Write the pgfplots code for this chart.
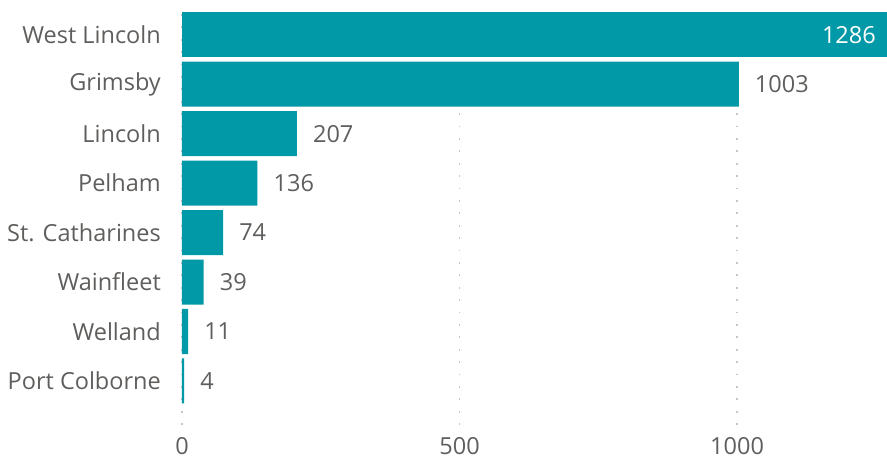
\documentclass[border=0pt]{standalone}
\usepackage{fontspec}
\setmainfont{Open Sans}
\usepackage{pgfplots}
\pgfplotsset{compat=1.18}
\definecolor{barc}{RGB}{1,153,168}
\definecolor{txt}{RGB}{96,94,92}
\definecolor{grd}{RGB}{200,198,196}
\begin{document}
\begin{tikzpicture}
\begin{axis}[
  name=ax,
  scale only axis,
  width=705pt, height=420pt,
  xbar, bar shift=0pt, bar width=0.91,
  xmin=0, xmax=1270,
  ymin=-0.89, ymax=7.6,
  xtick={0,500,1000},
  ytick={0,1,2,3,4,5,6,7},
  yticklabels={Port Colborne, Welland, Wainfleet, St. Catharines, Pelham, Lincoln, Grimsby, West Lincoln},
  axis line style={draw=none},
  tick style={draw=none},
  major tick length=0pt,
  /pgf/number format/assume math mode=true,
  /pgf/number format/1000 sep={},
  ticklabel style={font=\fontsize{23.5}{27}\selectfont, text=txt, inner sep=0pt},
  yticklabel style={anchor=east, xshift=-21pt},
  xticklabel style={anchor=north, yshift=-12pt},
  xmajorgrids,
  major x grid style={grd, line width=1.8pt, dash pattern=on 1.8pt off 10.6pt},
]
\addplot[fill=barc, draw=none, nodes near coords,
  every node near coord/.append style={font=\fontsize{23.5}{27}\selectfont, text=txt, anchor=west, inner sep=0pt, xshift=16pt}] coordinates {
  (4,0) (11,1) (39,2) (74,3) (136,4) (207,5) (1003,6)
};
\addplot[fill=barc, draw=none] coordinates {
  (1286,7)
};
\node[anchor=east, inner sep=0pt, text=white, font=\fontsize{23.5}{27}\selectfont, xshift=-11pt] at (axis cs:1270,7) {1286};
\end{axis}
\pgfresetboundingbox
\useasboundingbox ([xshift=-182pt,yshift=-34pt]ax.south west) rectangle ([yshift=5pt]ax.north east);
\end{tikzpicture}
\end{document}
